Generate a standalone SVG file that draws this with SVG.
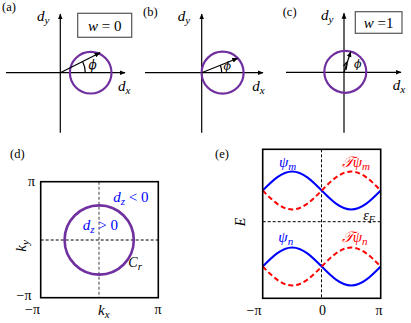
<svg xmlns="http://www.w3.org/2000/svg" xmlns:xlink="http://www.w3.org/1999/xlink" width="411" height="323" viewBox="0 0 411 323">
<style>
  text { font-family: "Liberation Serif", "DejaVu Serif", serif; fill: #000; }
  .lab { font-size: 12.5px; }
  .m { font-style: italic; font-size: 15px; }
  .sub { font-style: italic; font-size: 11px; }
  .r { font-style: normal; }
  .phi { font-family: "DejaVu Serif", "Liberation Serif", serif; font-style: italic; }
  .ax { stroke: #000; stroke-width: 1.2; fill: none; }
  .circ { stroke: #7030A0; stroke-width: 2.2; fill: none; }
  .vec { stroke: #000; stroke-width: 1.2; fill: none; }
  .box { stroke: #555; stroke-width: 1.2; fill: #fff; }
  .frame { stroke: #000; stroke-width: 1.6; fill: none; }
  .dash { stroke: #000; stroke-width: 1; stroke-dasharray: 3 2; fill: none; }
  .dashg { stroke: #888; stroke-width: 1.6; stroke-dasharray: 3 2; fill: none; }
  .blue { stroke: #0000FF; stroke-width: 2; fill: none; }
  .red { stroke: #FF0000; stroke-width: 2; stroke-dasharray: 5 3; fill: none; }
  .tb { fill: #0000FF; }
  .tr { fill: #FF0000; }
</style>
<defs>
  <marker id="arr" viewBox="0 0 10 10" refX="9" refY="5" markerWidth="6" markerHeight="6" orient="auto" markerUnits="userSpaceOnUse">
    <path d="M0,1 L10,5 L0,9 z" fill="#000"/>
  </marker>
  <path id="wave" d="M262.7,0 c9.62,-9.73 18.82,-19 29.5,-19 c10.68,0 19.88,9.27 29.5,19 c9.62,9.73 18.82,19 29.5,19 c10.68,0 19.88,-9.27 29.5,-19"/>
</defs>

<!-- Panel (a) -->
<g id="panel-a">
  <text class="lab" x="2" y="11">(a)</text>
  <line class="ax" x1="6" y1="72.7" x2="125" y2="72.7" marker-end="url(#arr)"/>
  <line class="ax" x1="60.3" y1="132.7" x2="60.3" y2="14" marker-end="url(#arr)"/>
  <circle class="circ" cx="90.7" cy="72.7" r="20.8"/>
  <line class="vec" x1="60.3" y1="72.7" x2="100" y2="52.7" marker-end="url(#arr)"/>
  <path class="vec" d="M85.3,72.7 A25,25 0 0 0 82.6,61.5"/>
  <text class="phi" x="88.5" y="69" style="font-size:12px">ϕ</text>
  <text class="m" x="37" y="21">d<tspan class="sub" dy="3">y</tspan></text>
  <text class="m" x="118" y="90.5">d<tspan class="sub" dy="3">x</tspan></text>
  <rect class="box" x="77.7" y="13.3" width="54" height="24"/>
  <text class="m" x="104.7" y="30.7" text-anchor="middle">w <tspan class="r">= 0</tspan></text>
</g>

<!-- Panel (b) -->
<g id="panel-b">
  <text class="lab" x="143" y="16">(b)</text>
  <line class="ax" x1="145" y1="72.7" x2="263" y2="72.7" marker-end="url(#arr)"/>
  <line class="ax" x1="201.7" y1="132.7" x2="201.7" y2="14" marker-end="url(#arr)"/>
  <circle class="circ" cx="222.6" cy="72.7" r="21"/>
  <line class="vec" x1="201.7" y1="72.7" x2="237.7" y2="58.3" marker-end="url(#arr)"/>
  <path class="vec" d="M221.7,72.7 A20,20 0 0 0 220.3,65.3"/>
  <text class="phi" x="223.5" y="70" style="font-size:11px">ϕ</text>
  <text class="m" x="177.7" y="21">d<tspan class="sub" dy="3">y</tspan></text>
  <text class="m" x="252.3" y="90.5">d<tspan class="sub" dy="3">x</tspan></text>
</g>

<!-- Panel (c) -->
<g id="panel-c">
  <text class="lab" x="282.7" y="16">(c)</text>
  <line class="ax" x1="286" y1="72.3" x2="401" y2="72.3" marker-end="url(#arr)"/>
  <line class="ax" x1="344" y1="132.7" x2="344" y2="13.3" marker-end="url(#arr)"/>
  <circle class="circ" cx="345.3" cy="71.8" r="21"/>
  <line class="vec" x1="344" y1="72.3" x2="350.7" y2="51.7" marker-end="url(#arr)"/>
  <path class="vec" d="M346,70 L347.2,63.5"/>
  <path class="vec" d="M343.5,66 L347,62"/>
  <text class="phi" x="354" y="68" style="font-size:11px">ϕ</text>
  <text class="m" x="321" y="20">d<tspan class="sub" dy="3">y</tspan></text>
  <text class="m" x="392.7" y="90">d<tspan class="sub" dy="3">x</tspan></text>
  <rect class="box" x="355.3" y="11.7" width="46.7" height="21.6"/>
  <text class="m" x="378.6" y="28.3" text-anchor="middle">w <tspan class="r">=1</tspan></text>
</g>

<!-- Panel (d) -->
<g id="panel-d">
  <text class="lab" x="10" y="158">(d)</text>
  <line class="dashg" x1="99" y1="181.7" x2="99" y2="297.7"/>
  <line class="dash" x1="40.7" y1="240" x2="158.3" y2="240"/>
  <circle class="circ" cx="99.2" cy="240" r="34.6" style="stroke-width:2.6"/>
  <rect class="frame" x="40.7" y="181.7" width="117.6" height="116"/>
  <text class="m r" x="28" y="186" style="font-size:14px">π</text>
  <text class="m r" x="16.5" y="299.5" style="font-size:14px">−π</text>
  <text class="m r" x="25" y="313.5" style="font-size:14px">−π</text>
  <text class="m r" x="154.5" y="313.5" style="font-size:14px">π</text>
  <text class="m" x="98" y="315">k<tspan class="sub" dy="3">x</tspan></text>
  <text class="m" transform="translate(26,246) rotate(-90)" text-anchor="middle">k<tspan class="sub" dy="3">y</tspan></text>
  <text class="m tb" x="113.3" y="201.7">d<tspan class="sub tb" dy="3">z</tspan><tspan class="r" dy="-3"> &lt; 0</tspan></text>
  <text class="m tb" x="82.7" y="230">d<tspan class="sub tb" dy="3">z</tspan><tspan class="r" dy="-3"> &gt; 0</tspan></text>
  <text class="m" x="128.3" y="267" style="font-size:14px">C<tspan class="sub" dy="3">r</tspan></text>
</g>

<!-- Panel (e) -->
<g id="panel-e">
  <text class="lab" x="215" y="158">(e)</text>
  <line class="dash" x1="321.5" y1="149.3" x2="321.5" y2="298.3"/>
  <line class="dash" x1="262.7" y1="221.7" x2="380.7" y2="221.7"/>
  <g id="bands">
    <use xlink:href="#wave" class="blue" transform="translate(0,190.5)"/>
    <use xlink:href="#wave" class="red" transform="translate(0,190.5) scale(1,-1)"/>
    <use xlink:href="#wave" class="blue" transform="translate(0,266.5)"/>
    <use xlink:href="#wave" class="red" transform="translate(0,266.5) scale(1,-1)"/>
  </g>
  <rect class="frame" x="262.7" y="149.3" width="118" height="149"/>
  <text class="m tb" x="279" y="167">ψ<tspan class="sub tb" dy="3">m</tspan></text>
  <text class="m tr" x="341.7" y="167">𝒯ψ<tspan class="sub tr" dy="3">m</tspan></text>
  <text class="m tb" x="278.3" y="241.7">ψ<tspan class="sub tb" dy="3">n</tspan></text>
  <text class="m tr" x="341.7" y="241.7">𝒯ψ<tspan class="sub tr" dy="3">n</tspan></text>
  <text class="m" x="363.3" y="219.5" style="font-size:14px">ε<tspan class="sub" dy="3" style="font-size:10px">F</tspan></text>
  <text class="m" transform="translate(244.5,222) rotate(-90)" text-anchor="middle" style="font-size:14px">E</text>
  <text class="m r" x="254" y="315" text-anchor="middle" style="font-size:14px">−π</text>
  <text class="m r" x="322.5" y="315" text-anchor="middle" style="font-size:14px">0</text>
  <text class="m r" x="379" y="315" text-anchor="middle" style="font-size:14px">π</text>
</g>
</svg>
